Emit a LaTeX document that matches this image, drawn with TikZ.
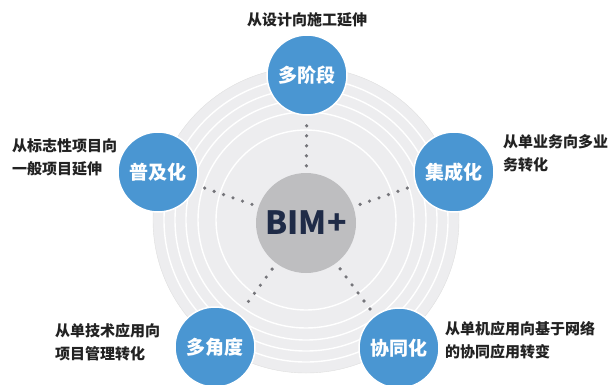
\documentclass[tikz,border=0pt]{standalone}
\usepackage{fontspec}
\usepackage{tikz}
\usetikzlibrary{positioning}
\newfontfamily\cjk{Noto Sans CJK SC}
\definecolor{bimblue}{HTML}{4A96D2}
\definecolor{bimgray}{HTML}{BEBEC0}
\definecolor{bimnavy}{HTML}{1F2B47}
\definecolor{bimdisc}{HTML}{EDEDEF}
\definecolor{bimdot}{HTML}{75757A}
\definecolor{bimtext}{HTML}{222222}

\begin{document}
\begin{tikzpicture}[x=1pt, y=-1pt,
  stagecircle/.style={circle, fill=bimblue, draw=white, line width=1.5pt, minimum size=80pt, inner sep=0pt, text=white, font=\cjk\bfseries\fontsize{19}{19}\selectfont},
  hubcircle/.style={circle, fill=bimgray, minimum size=100pt, inner sep=0pt, text=bimnavy, font=\cjk\bfseries\fontsize{32}{32}\selectfont},
  notetext/.style={text=bimtext, align=left, inner sep=0pt, font=\cjk\bfseries\fontsize{15}{23}\selectfont},
  dotline/.style={bimdot, line width=3.6pt, line cap=round, dash pattern=on 0pt off 10pt, shorten <=7pt, shorten >=7pt},
  ringline/.style={white, line width=1.4pt}]
  \useasboundingbox (0,0) rectangle (609,384);
  % disc and its rings
  \fill[bimdisc] (306,220) circle (153pt);
  \draw[gray!25] (306,220) circle (153pt);
  \foreach \r in {90,108,120,131,142}
    \draw[ringline] (306,220) circle (\r pt);
  % hub and stages
  \node[hubcircle] (bim) at (306,223) {BIM+};
  \node[stagecircle] (stages) at (307,75) {多阶段};
  \node[stagecircle] (spread) at (158,172) {普及化};
  \node[stagecircle] (integrate) at (454,172) {集成化};
  \node[stagecircle] (views) at (215,347) {多角度};
  \node[stagecircle] (collab) at (399,348) {协同化};
  \foreach \s in {stages,spread,integrate,views,collab}
    \draw[dotline] (bim) -- (\s);
  % notes
  \node[notetext, above=7pt of stages] (stagesnote) {从设计向施工延伸};
  \node[notetext, anchor=west] (spreadnote) at (12,157.5) {从标志性项目向\\一般项目延伸};
  \node[notetext, anchor=west] (integratenote) at (503,153.5) {从单业务向多业\\务转化};
  \node[notetext, anchor=west] (viewsnote) at (55,342.5) {从单技术应用向\\项目管理转化};
  \node[notetext, anchor=west] (collabnote) at (445,340) {从单机应用向基于网络\\的协同应用转变};
\end{tikzpicture}
\end{document}
